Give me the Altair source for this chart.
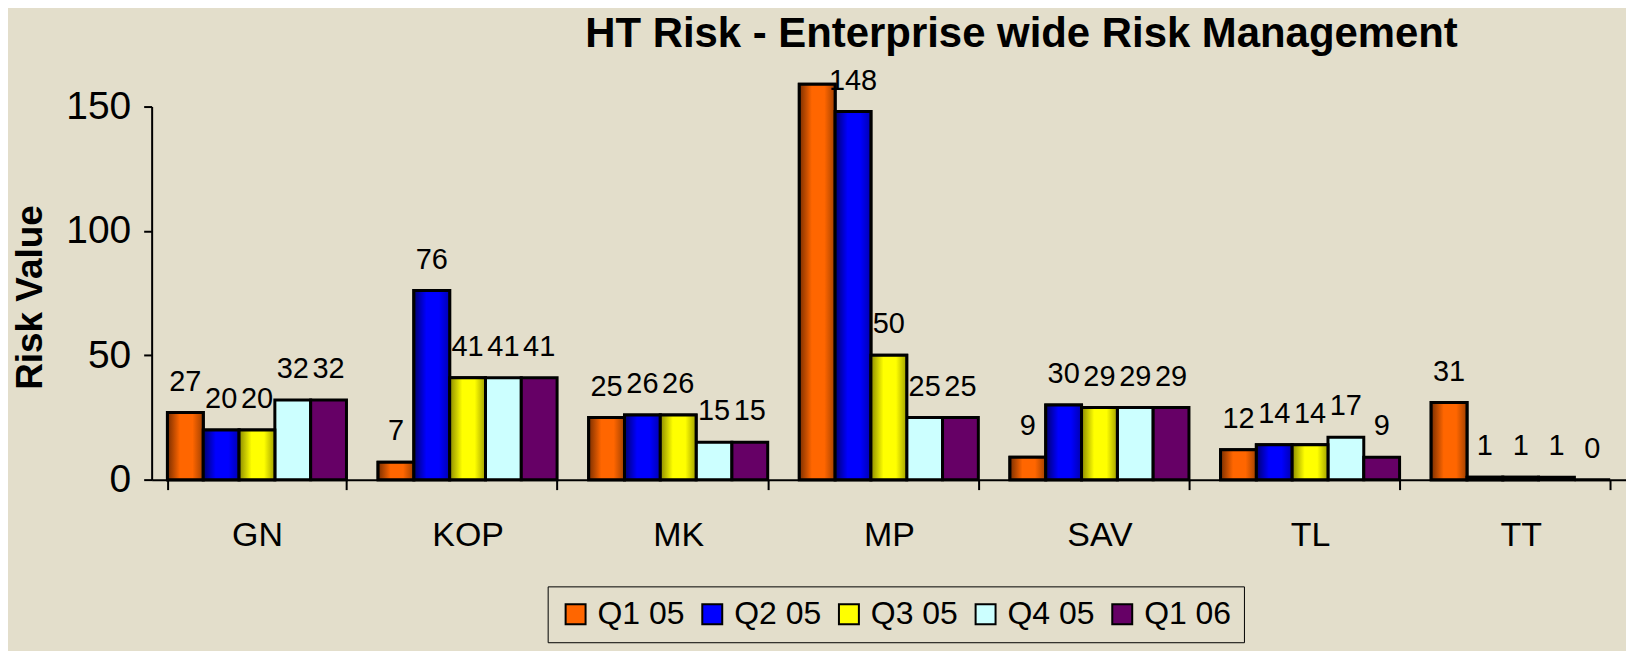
import altair as alt
import pandas as pd

categories = ["GN", "KOP", "MK", "MP", "SAV", "TL", "TT"]
series = ["Q1 05", "Q2 05", "Q3 05", "Q4 05", "Q1 06"]
q1_05 = [27, 7, 25, 159, 9, 12, 31]
q2_05 = [20, 76, 26, 148, 30, 14, 1]
q3_05 = [20, 41, 26, 50, 29, 14, 1]
q4_05 = [32, 41, 15, 25, 29, 17, 1]
q1_06 = [32, 41, 15, 25, 29, 9, 0]
flat_colors = ["#FF6600", "#0000FF", "#FFFF00", "#CCFFFF", "#660066"]

rows = []
for s, vals in zip(series, [q1_05, q2_05, q3_05, q4_05, q1_06]):
    for c, v in zip(categories, vals):
        rows.append({"site": c, "quarter": s, "value": v})
df = pd.DataFrame(rows)

FONT = "Liberation Sans"
BG = "#E3DECB"

x = alt.X(
    "site:N", sort=categories,
    scale=alt.Scale(paddingInner=0.15, paddingOuter=0.075),
    axis=alt.Axis(title=None, labelAngle=0, tickBand="extent", domainColor="black",
                  domainWidth=2, tickColor="black", tickWidth=2, tickSize=10,
                  labelFontSize=34, labelPadding=29, labelColor="black", grid=False),
)
xo = alt.XOffset("quarter:N", sort=series, scale=alt.Scale(domain=series, paddingInner=0, paddingOuter=0))
y = alt.Y(
    "value:Q", scale=alt.Scale(domain=[0, 150], nice=False),
    axis=alt.Axis(values=[0, 50, 100, 150], title="Risk Value", titleFontSize=37,
                  titleFontWeight="bold", titleAngle=270, titleX=-121, titleY=191,
                  titleAlign="center", titleBaseline="middle", titleColor="black",
                  domainColor="black", domainWidth=2, tickColor="black", tickWidth=2,
                  tickSize=8, labelFontSize=39, labelPadding=13, labelColor="black", grid=False),
)

base = alt.Chart(df)

bars = base.mark_bar(stroke="black", strokeWidth=3).encode(
    x=x, xOffset=xo, y=y,
    fill=alt.Fill("quarter:N", sort=series,
                  scale=alt.Scale(domain=series, range=flat_colors),
                  legend=alt.Legend(orient="none", legendX=397, legendY=481,
                                    direction="horizontal", title=None,
                                    strokeColor="black", padding=12,
                                    labelFontSize=32, labelColor="black",
                                    symbolType="square", symbolSize=400,
                                    symbolStrokeColor="black", symbolStrokeWidth=2,
                                    symbolOpacity=1, columnPadding=11, labelOffset=6)),
)

grad_specs = {
    "Q1 05": ["#7A2E00", "#FF6600", "#FF6600", "#A04000"],
    "Q2 05": ["#000070", "#0000FF", "#0000FF", "#0000B0"],
    "Q3 05": ["#8A8A00", "#FFFF00", "#FFFF00", "#A0A000"],
}
layers = [bars]
for s, cols in grad_specs.items():
    g = alt.Gradient(
        gradient="linear", x1=0, x2=1, y1=0, y2=0,
        stops=[alt.GradientStop(color=cols[0], offset=0),
               alt.GradientStop(color=cols[1], offset=0.35),
               alt.GradientStop(color=cols[2], offset=0.7),
               alt.GradientStop(color=cols[3], offset=1)],
    )
    layers.append(
        base.transform_filter(alt.datum.quarter == s)
        .mark_bar(fill=g, stroke="black", strokeWidth=3)
        .encode(x=x, xOffset=xo, y=y)
    )

labels = base.transform_calculate(
    lbl="datum.value > 150 ? '' : format(datum.value, 'd')"
).mark_text(fontSize=29, dy=-22, baseline="alphabetic", color="black").encode(
    x=x, xOffset=xo, y=y, text="lbl:N"
)
layers.append(labels)

chart = alt.layer(*layers).properties(
    width=1478, height=374,
    autosize=alt.AutoSizeParams(type="none"),
    padding={"left": 144, "top": 98, "right": 0, "bottom": 171},
    title=alt.TitleParams(text="HT Risk  - Enterprise wide Risk Management",
                          fontSize=42, fontWeight="bold", color="black",
                          anchor="middle", dx=133, dy=25, offset=8),
).configure(background=BG, font=FONT).configure_view(stroke=None)

chart.save("out.html", embed_options={"renderer": "svg", "actions": False})
